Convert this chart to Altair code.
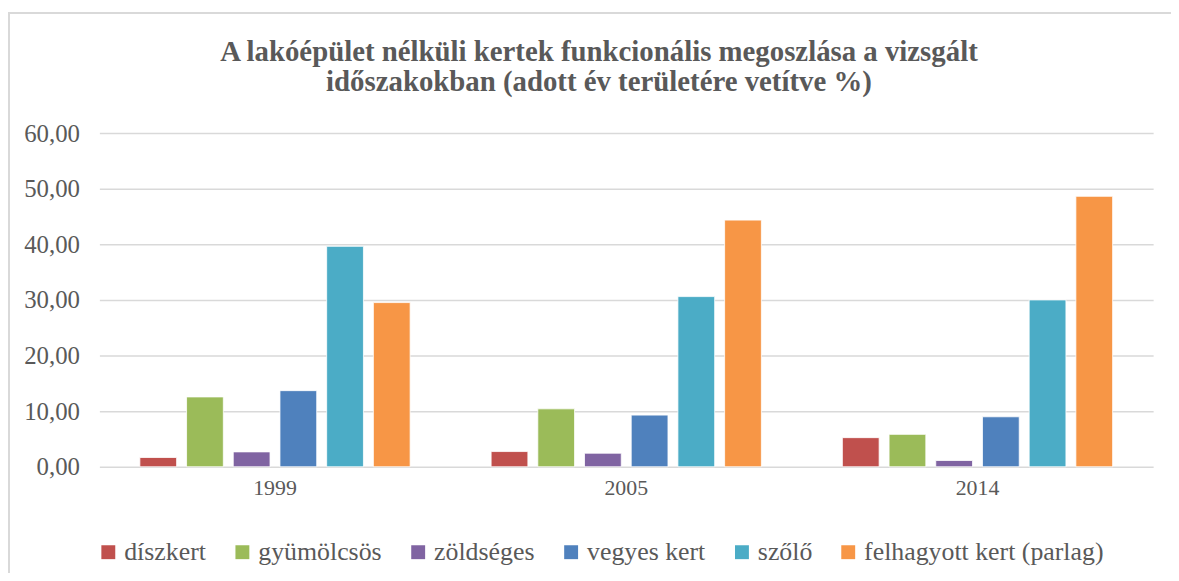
import altair as alt
import pandas as pd

years = ["1999", "2005", "2014"]
categories = ["díszkert", "gyümölcsös", "zöldséges", "vegyes kert", "szőlő", "felhagyott kert (parlag)"]
colors = ["#C0504D", "#9BBB59", "#8064A2", "#4F81BD", "#4BACC6", "#F79646"]
v1999 = [1.67, 12.56, 2.68, 13.69, 39.64, 29.52]
v2005 = [2.74, 10.42, 2.44, 9.29, 30.60, 44.35]
v2014 = [5.24, 5.83, 1.13, 8.99, 30.00, 48.63]

rows = []
for y, vals in zip(years, [v1999, v2005, v2014]):
    for c, v in zip(categories, vals):
        rows.append({"ev": y, "kategoria": c, "ertek": v})
df = pd.DataFrame(rows)

FONT = "Liberation Serif"
GRAY = "#595959"

bars = alt.Chart(df).mark_bar(stroke="white", strokeWidth=0.8).encode(
    x=alt.X("ev:N", sort=years, title=None,
            scale=alt.Scale(paddingInner=0, paddingOuter=0, range=[12, 1073]),
            axis=alt.Axis(labelAngle=0, ticks=False, domain=False, labelPadding=11,
                          labelFontSize=22, labelFont=FONT, labelColor=GRAY, grid=False)),
    xOffset=alt.XOffset("kategoria:N", sort=categories,
                        scale=alt.Scale(paddingInner=0.2128, paddingOuter=0.867)),
    y=alt.Y("ertek:Q", title=None,
            scale=alt.Scale(domain=[0, 60], nice=False),
            axis=alt.Axis(values=[0, 10, 20, 30, 40, 50, 60], ticks=False, domain=False,
                          labelPadding=8, labelFontSize=25, labelFont=FONT, labelColor=GRAY,
                          gridColor="#d9d9d9", gridWidth=1.5,
                          labelExpr="replace(format(datum.value, '.2f'), '.', ',')")),
    color=alt.Color("kategoria:N", sort=categories,
                    scale=alt.Scale(domain=categories, range=colors),
                    legend=alt.Legend(title=None, orient="none", direction="horizontal",
                                      legendX=8, legendY=409,
                                      symbolType="square", symbolSize=196, symbolStrokeWidth=0,
                                      labelFontSize=26, labelFont=FONT, labelColor=GRAY,
                                      labelLimit=500, labelOffset=3, columnPadding=23)),
)

frame = alt.Chart(pd.DataFrame({"a": [0]})).mark_rect(
    fill=None, stroke="#d9d9d9", strokeWidth=2
).encode(x=alt.value(-79), x2=alt.value(1200), y=alt.value(-121), y2=alt.value(700))

chart = alt.layer(frame, bars).properties(
    width=1074, height=336,
    autosize=alt.AutoSizeParams(type="none"),
    padding={"left": 80, "top": 124, "right": 17, "bottom": 105},
    title=alt.TitleParams(
        text=["A lakóépület nélküli kertek funkcionális megoszlása a vizsgált",
              "időszakokban (adott év területére vetítve %)"],
        anchor="middle", font=FONT, fontSize=29, fontWeight="bold", color=GRAY,
        lineHeight=31, offset=-109, baseline="alphabetic", dx=-22),
).configure(font=FONT).configure_view(stroke=None)

chart.save("out.html", embed_options={"renderer": "svg", "actions": False})
